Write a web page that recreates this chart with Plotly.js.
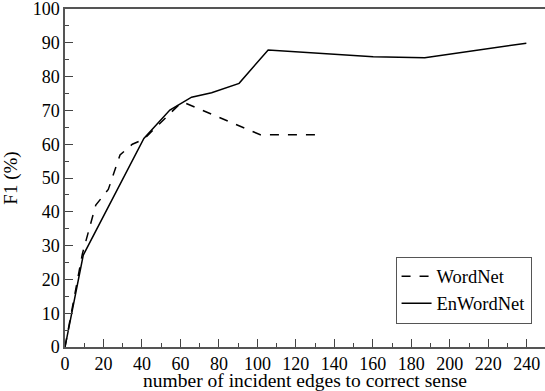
<!DOCTYPE html>
<html>
<head>
<meta charset="utf-8">
<script src="https://cdn.plot.ly/plotly-3.0.1.min.js"></script>
</head>
<body style="margin:0;background:#fff">
<div id="chart" style="width:545px;height:391px"></div>
<script>
// WordNet (dashed)
const wordnetX = [0, 9, 16, 22.5, 28.6, 35, 41, 60, 62, 101.5, 131.5];
const wordnetY = [0, 27.5, 42, 46.6, 56.8, 60, 61.5, 72.1, 72.3, 62.8, 62.8];
// EnWordNet (solid)
const enwordnetX = [0, 9.5, 41, 54.5, 65.8, 76.2, 90.5, 105.6, 160.2, 187, 239.8];
const enwordnetY = [0, 27.2, 61.7, 70.1, 73.9, 75.2, 78.0, 87.9, 85.9, 85.6, 89.9];
// tick values
const xTicks = [0, 20, 40, 60, 80, 100, 120, 140, 160, 180, 200, 220, 240];
const yTicks = [0, 10, 20, 30, 40, 50, 60, 70, 80, 90, 100];

const FONTFAM = "Liberation Serif";

const traces = [
  {x: wordnetX, y: wordnetY, name: "WordNet", mode: "lines",
   line: {color: "#000", width: 1.5, dash: "dash"}},
  {x: enwordnetX, y: enwordnetY, name: "EnWordNet", mode: "lines",
   line: {color: "#000", width: 1.5}}
];

const layout = {
  width: 545, height: 391,
  margin: {l: 65, r: 0, t: 9, b: 44, pad: 0},
  paper_bgcolor: "#fff", plot_bgcolor: "#fff",
  font: {family: FONTFAM, size: 18, color: "#000"},
  showlegend: true,
  legend: {x: 0.972, xanchor: "right", y: 0.069, yanchor: "bottom",
           bordercolor: "#555", borderwidth: 1, bgcolor: "#fff",
           font: {family: FONTFAM, size: 18.5}},
  xaxis: {
    range: [0, 249.5], tickmode: "array", tickvals: xTicks,
    ticks: "inside", ticklen: 8, tickcolor: "#444", tickwidth: 1,
    minor: {dtick: 10, ticks: "inside", ticklen: 4, tickcolor: "#444"},
    showline: true, linecolor: "#555", linewidth: 1.5, mirror: true,
    showgrid: false, zeroline: false, ticklabeloverflow: "allow",
    tickfont: {family: FONTFAM, size: 18},
    title: {text: "number of incident edges to correct sense", font: {family: FONTFAM, size: 19.5}, standoff: 0}
  },
  yaxis: {
    range: [0, 100], tickmode: "array", tickvals: yTicks,
    ticks: "inside", ticklen: 8, tickcolor: "#444", tickwidth: 1,
    minor: {dtick: 5, ticks: "inside", ticklen: 4, tickcolor: "#444"},
    showline: true, linecolor: "#555", linewidth: 1.5, mirror: false,
    showgrid: false, zeroline: false, ticklabeloverflow: "allow",
    tickfont: {family: FONTFAM, size: 18},
    title: {text: "F1 (%)", font: {family: FONTFAM, size: 19}, standoff: 10}
  }
};

Plotly.newPlot("chart", traces, layout, {displayModeBar: false});
</script>
</body>
</html>
